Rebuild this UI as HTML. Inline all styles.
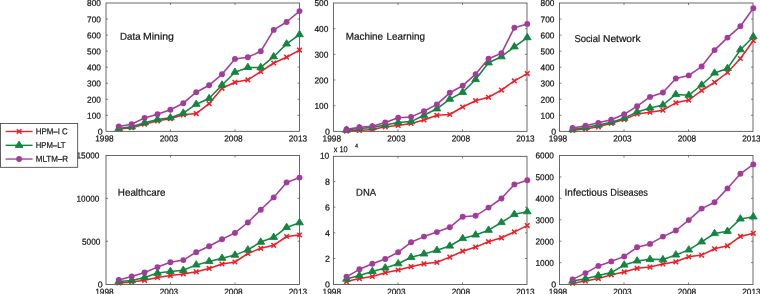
<!DOCTYPE html>
<html><head><meta charset="utf-8"><title>chart</title>
<style>
html,body{margin:0;padding:0;background:#fff;}
body{width:760px;height:294px;overflow:hidden;}
svg{display:block;}
text{font-family:"Liberation Sans",sans-serif;fill:#161616;stroke:#161616;stroke-width:0.22px;}
.t{font-size:8.7px;}
.h{font-size:10px;}
.l{font-size:8.5px;}
.s{font-size:5.8px;}
</style></head><body>
<svg width="760" height="294" viewBox="0 0 760 294">
<rect width="760" height="294" fill="#fff"/>
<g>
<rect x="106.00" y="3.00" width="193.50" height="128.35" fill="none" stroke="#4e4e4e" stroke-width="0.85"/>
<path d="M170.50 131.35v-2.00M170.50 3.00v2.00M235.00 131.35v-2.00M235.00 3.00v2.00M106.00 115.31h2.00M299.50 115.31h-2.00M106.00 99.26h2.00M299.50 99.26h-2.00M106.00 83.22h2.00M299.50 83.22h-2.00M106.00 67.17h2.00M299.50 67.17h-2.00M106.00 51.13h2.00M299.50 51.13h-2.00M106.00 35.09h2.00M299.50 35.09h-2.00M106.00 19.04h2.00M299.50 19.04h-2.00" stroke="#4e4e4e" stroke-width="0.7" fill="none"/>
<text class="t" x="97.65" y="134.75" transform="rotate(0.04 97.65 134.75)" textLength="4.90" lengthAdjust="spacingAndGlyphs">0</text>
<text class="t" x="87.00" y="118.71" transform="rotate(0.04 87.00 118.71)" textLength="13.90" lengthAdjust="spacingAndGlyphs">100</text>
<text class="t" x="87.00" y="102.66" transform="rotate(0.04 87.00 102.66)" textLength="13.90" lengthAdjust="spacingAndGlyphs">200</text>
<text class="t" x="87.00" y="86.62" transform="rotate(0.04 87.00 86.62)" textLength="13.90" lengthAdjust="spacingAndGlyphs">300</text>
<text class="t" x="87.00" y="70.58" transform="rotate(0.04 87.00 70.58)" textLength="13.90" lengthAdjust="spacingAndGlyphs">400</text>
<text class="t" x="87.00" y="54.53" transform="rotate(0.04 87.00 54.53)" textLength="13.90" lengthAdjust="spacingAndGlyphs">500</text>
<text class="t" x="87.00" y="38.49" transform="rotate(0.04 87.00 38.49)" textLength="13.90" lengthAdjust="spacingAndGlyphs">600</text>
<text class="t" x="87.00" y="22.44" transform="rotate(0.04 87.00 22.44)" textLength="13.90" lengthAdjust="spacingAndGlyphs">700</text>
<text class="t" x="87.00" y="6.00" transform="rotate(0.04 87.00 6.00)" textLength="13.90" lengthAdjust="spacingAndGlyphs">800</text>
<text class="t" x="95.20" y="141.55" transform="rotate(0.04 95.20 141.55)" textLength="18.40" lengthAdjust="spacingAndGlyphs">1998</text>
<text class="t" x="159.70" y="141.55" transform="rotate(0.04 159.70 141.55)" textLength="18.40" lengthAdjust="spacingAndGlyphs">2003</text>
<text class="t" x="224.20" y="141.55" transform="rotate(0.04 224.20 141.55)" textLength="18.40" lengthAdjust="spacingAndGlyphs">2008</text>
<text class="t" x="288.70" y="141.55" transform="rotate(0.04 288.70 141.55)" textLength="18.40" lengthAdjust="spacingAndGlyphs">2013</text>
<text class="h" x="120.05" y="39.70" transform="rotate(0.04 120.05 39.70)" textLength="20.52" lengthAdjust="spacingAndGlyphs">Data</text>
<text class="h" x="143.00" y="39.70" transform="rotate(0.04 143.00 39.70)" textLength="30.91" lengthAdjust="spacingAndGlyphs">Mining</text>
<polyline points="118.76,129.10 131.67,127.70 144.58,124.20 157.49,120.80 170.40,118.70 183.31,114.80 196.22,113.60 209.13,103.70 222.04,88.30 234.95,82.30 247.86,79.80 260.77,71.70 273.68,63.00 286.59,57.20 299.50,50.10" fill="none" stroke="#ec1e28" stroke-width="1.55" stroke-linejoin="round"/>
<path d="M116.46 126.80L121.06 131.40M116.46 131.40L121.06 126.80" stroke="#ec1e28" stroke-width="1.5" fill="none"/><path d="M129.37 125.40L133.97 130.00M129.37 130.00L133.97 125.40" stroke="#ec1e28" stroke-width="1.5" fill="none"/><path d="M142.28 121.90L146.88 126.50M142.28 126.50L146.88 121.90" stroke="#ec1e28" stroke-width="1.5" fill="none"/><path d="M155.19 118.50L159.79 123.10M155.19 123.10L159.79 118.50" stroke="#ec1e28" stroke-width="1.5" fill="none"/><path d="M168.10 116.40L172.70 121.00M168.10 121.00L172.70 116.40" stroke="#ec1e28" stroke-width="1.5" fill="none"/><path d="M181.01 112.50L185.61 117.10M181.01 117.10L185.61 112.50" stroke="#ec1e28" stroke-width="1.5" fill="none"/><path d="M193.92 111.30L198.52 115.90M193.92 115.90L198.52 111.30" stroke="#ec1e28" stroke-width="1.5" fill="none"/><path d="M206.83 101.40L211.43 106.00M206.83 106.00L211.43 101.40" stroke="#ec1e28" stroke-width="1.5" fill="none"/><path d="M219.74 86.00L224.34 90.60M219.74 90.60L224.34 86.00" stroke="#ec1e28" stroke-width="1.5" fill="none"/><path d="M232.65 80.00L237.25 84.60M232.65 84.60L237.25 80.00" stroke="#ec1e28" stroke-width="1.5" fill="none"/><path d="M245.56 77.50L250.16 82.10M245.56 82.10L250.16 77.50" stroke="#ec1e28" stroke-width="1.5" fill="none"/><path d="M258.47 69.40L263.07 74.00M258.47 74.00L263.07 69.40" stroke="#ec1e28" stroke-width="1.5" fill="none"/><path d="M271.38 60.70L275.98 65.30M271.38 65.30L275.98 60.70" stroke="#ec1e28" stroke-width="1.5" fill="none"/><path d="M284.29 54.90L288.89 59.50M284.29 59.50L288.89 54.90" stroke="#ec1e28" stroke-width="1.5" fill="none"/><path d="M297.20 47.80L301.80 52.40M297.20 52.40L301.80 47.80" stroke="#ec1e28" stroke-width="1.5" fill="none"/>
<polyline points="118.76,128.50 131.67,126.80 144.58,122.80 157.49,119.60 170.40,117.70 183.31,113.10 196.22,104.20 209.13,98.50 222.04,85.00 234.95,72.20 247.86,67.40 260.77,67.40 273.68,56.70 286.59,43.90 299.50,34.60" fill="none" stroke="#12853f" stroke-width="1.55" stroke-linejoin="round"/>
<path d="M118.76 124.27L122.63 130.62L114.88 130.62Z" fill="#12853f" stroke="#12853f" stroke-width="0.9"/><path d="M131.67 122.57L135.54 128.92L127.79 128.92Z" fill="#12853f" stroke="#12853f" stroke-width="0.9"/><path d="M144.58 118.57L148.45 124.92L140.70 124.92Z" fill="#12853f" stroke="#12853f" stroke-width="0.9"/><path d="M157.49 115.37L161.37 121.72L153.62 121.72Z" fill="#12853f" stroke="#12853f" stroke-width="0.9"/><path d="M170.40 113.47L174.27 119.82L166.52 119.82Z" fill="#12853f" stroke="#12853f" stroke-width="0.9"/><path d="M183.31 108.87L187.19 115.22L179.44 115.22Z" fill="#12853f" stroke="#12853f" stroke-width="0.9"/><path d="M196.22 99.97L200.09 106.32L192.34 106.32Z" fill="#12853f" stroke="#12853f" stroke-width="0.9"/><path d="M209.13 94.27L213.00 100.62L205.25 100.62Z" fill="#12853f" stroke="#12853f" stroke-width="0.9"/><path d="M222.04 80.77L225.91 87.12L218.16 87.12Z" fill="#12853f" stroke="#12853f" stroke-width="0.9"/><path d="M234.95 67.97L238.82 74.32L231.07 74.32Z" fill="#12853f" stroke="#12853f" stroke-width="0.9"/><path d="M247.86 63.17L251.73 69.52L243.98 69.52Z" fill="#12853f" stroke="#12853f" stroke-width="0.9"/><path d="M260.77 63.17L264.64 69.52L256.89 69.52Z" fill="#12853f" stroke="#12853f" stroke-width="0.9"/><path d="M273.68 52.47L277.56 58.82L269.81 58.82Z" fill="#12853f" stroke="#12853f" stroke-width="0.9"/><path d="M286.59 39.67L290.47 46.02L282.72 46.02Z" fill="#12853f" stroke="#12853f" stroke-width="0.9"/><path d="M299.50 30.37L303.38 36.72L295.62 36.72Z" fill="#12853f" stroke="#12853f" stroke-width="0.9"/>
<polyline points="118.76,126.40 131.67,124.20 144.58,117.90 157.49,114.30 170.40,109.70 183.31,103.20 196.22,92.20 209.13,85.20 222.04,74.30 234.95,58.90 247.86,57.20 260.77,51.30 273.68,29.90 286.59,22.00 299.50,11.10" fill="none" stroke="#a23c9a" stroke-width="1.55" stroke-linejoin="round"/>
<circle cx="118.76" cy="126.40" r="2.95" fill="#a23c9a"/><circle cx="131.67" cy="124.20" r="2.95" fill="#a23c9a"/><circle cx="144.58" cy="117.90" r="2.95" fill="#a23c9a"/><circle cx="157.49" cy="114.30" r="2.95" fill="#a23c9a"/><circle cx="170.40" cy="109.70" r="2.95" fill="#a23c9a"/><circle cx="183.31" cy="103.20" r="2.95" fill="#a23c9a"/><circle cx="196.22" cy="92.20" r="2.95" fill="#a23c9a"/><circle cx="209.13" cy="85.20" r="2.95" fill="#a23c9a"/><circle cx="222.04" cy="74.30" r="2.95" fill="#a23c9a"/><circle cx="234.95" cy="58.90" r="2.95" fill="#a23c9a"/><circle cx="247.86" cy="57.20" r="2.95" fill="#a23c9a"/><circle cx="260.77" cy="51.30" r="2.95" fill="#a23c9a"/><circle cx="273.68" cy="29.90" r="2.95" fill="#a23c9a"/><circle cx="286.59" cy="22.00" r="2.95" fill="#a23c9a"/><circle cx="299.50" cy="11.10" r="2.95" fill="#a23c9a"/>
</g>
<g>
<rect x="333.40" y="3.00" width="193.60" height="128.35" fill="none" stroke="#4e4e4e" stroke-width="0.85"/>
<path d="M397.93 131.35v-2.00M397.93 3.00v2.00M462.47 131.35v-2.00M462.47 3.00v2.00M333.40 105.68h2.00M527.00 105.68h-2.00M333.40 80.01h2.00M527.00 80.01h-2.00M333.40 54.34h2.00M527.00 54.34h-2.00M333.40 28.67h2.00M527.00 28.67h-2.00" stroke="#4e4e4e" stroke-width="0.7" fill="none"/>
<text class="t" x="325.05" y="134.75" transform="rotate(0.04 325.05 134.75)" textLength="4.90" lengthAdjust="spacingAndGlyphs">0</text>
<text class="t" x="314.40" y="109.08" transform="rotate(0.04 314.40 109.08)" textLength="13.90" lengthAdjust="spacingAndGlyphs">100</text>
<text class="t" x="314.40" y="83.41" transform="rotate(0.04 314.40 83.41)" textLength="13.90" lengthAdjust="spacingAndGlyphs">200</text>
<text class="t" x="314.40" y="57.74" transform="rotate(0.04 314.40 57.74)" textLength="13.90" lengthAdjust="spacingAndGlyphs">300</text>
<text class="t" x="314.40" y="32.07" transform="rotate(0.04 314.40 32.07)" textLength="13.90" lengthAdjust="spacingAndGlyphs">400</text>
<text class="t" x="314.40" y="6.00" transform="rotate(0.04 314.40 6.00)" textLength="13.90" lengthAdjust="spacingAndGlyphs">500</text>
<text class="t" x="322.60" y="141.55" transform="rotate(0.04 322.60 141.55)" textLength="18.40" lengthAdjust="spacingAndGlyphs">1998</text>
<text class="t" x="387.13" y="141.55" transform="rotate(0.04 387.13 141.55)" textLength="18.40" lengthAdjust="spacingAndGlyphs">2003</text>
<text class="t" x="451.67" y="141.55" transform="rotate(0.04 451.67 141.55)" textLength="18.40" lengthAdjust="spacingAndGlyphs">2008</text>
<text class="t" x="516.20" y="141.55" transform="rotate(0.04 516.20 141.55)" textLength="18.40" lengthAdjust="spacingAndGlyphs">2013</text>
<text class="h" x="345.80" y="39.70" transform="rotate(0.04 345.80 39.70)" textLength="37.30" lengthAdjust="spacingAndGlyphs">Machine</text>
<text class="h" x="386.50" y="39.70" transform="rotate(0.04 386.50 39.70)" textLength="38.42" lengthAdjust="spacingAndGlyphs">Learning</text>
<polyline points="346.51,131.10 359.42,130.40 372.33,129.40 385.24,126.80 398.15,125.40 411.06,123.40 423.97,119.90 436.88,115.30 449.79,114.50 462.70,107.00 475.61,100.70 488.52,97.30 501.43,90.10 514.34,80.90 527.25,73.60" fill="none" stroke="#ec1e28" stroke-width="1.55" stroke-linejoin="round"/>
<path d="M344.21 128.80L348.81 133.40M344.21 133.40L348.81 128.80" stroke="#ec1e28" stroke-width="1.5" fill="none"/><path d="M357.12 128.10L361.72 132.70M357.12 132.70L361.72 128.10" stroke="#ec1e28" stroke-width="1.5" fill="none"/><path d="M370.03 127.10L374.63 131.70M370.03 131.70L374.63 127.10" stroke="#ec1e28" stroke-width="1.5" fill="none"/><path d="M382.94 124.50L387.54 129.10M382.94 129.10L387.54 124.50" stroke="#ec1e28" stroke-width="1.5" fill="none"/><path d="M395.85 123.10L400.45 127.70M395.85 127.70L400.45 123.10" stroke="#ec1e28" stroke-width="1.5" fill="none"/><path d="M408.76 121.10L413.36 125.70M408.76 125.70L413.36 121.10" stroke="#ec1e28" stroke-width="1.5" fill="none"/><path d="M421.67 117.60L426.27 122.20M421.67 122.20L426.27 117.60" stroke="#ec1e28" stroke-width="1.5" fill="none"/><path d="M434.58 113.00L439.18 117.60M434.58 117.60L439.18 113.00" stroke="#ec1e28" stroke-width="1.5" fill="none"/><path d="M447.49 112.20L452.09 116.80M447.49 116.80L452.09 112.20" stroke="#ec1e28" stroke-width="1.5" fill="none"/><path d="M460.40 104.70L465.00 109.30M460.40 109.30L465.00 104.70" stroke="#ec1e28" stroke-width="1.5" fill="none"/><path d="M473.31 98.40L477.91 103.00M473.31 103.00L477.91 98.40" stroke="#ec1e28" stroke-width="1.5" fill="none"/><path d="M486.22 95.00L490.82 99.60M486.22 99.60L490.82 95.00" stroke="#ec1e28" stroke-width="1.5" fill="none"/><path d="M499.13 87.80L503.73 92.40M499.13 92.40L503.73 87.80" stroke="#ec1e28" stroke-width="1.5" fill="none"/><path d="M512.04 78.60L516.64 83.20M512.04 83.20L516.64 78.60" stroke="#ec1e28" stroke-width="1.5" fill="none"/><path d="M524.95 71.30L529.55 75.90M524.95 75.90L529.55 71.30" stroke="#ec1e28" stroke-width="1.5" fill="none"/>
<polyline points="346.51,130.10 359.42,128.50 372.33,127.60 385.24,125.10 398.15,122.50 411.06,121.60 423.97,115.30 436.88,108.80 449.79,99.10 462.70,92.30 475.61,79.50 488.52,62.80 501.43,56.70 514.34,46.80 527.25,37.60" fill="none" stroke="#12853f" stroke-width="1.55" stroke-linejoin="round"/>
<path d="M346.51 125.87L350.39 132.22L342.64 132.22Z" fill="#12853f" stroke="#12853f" stroke-width="0.9"/><path d="M359.42 124.27L363.30 130.62L355.55 130.62Z" fill="#12853f" stroke="#12853f" stroke-width="0.9"/><path d="M372.33 123.37L376.21 129.72L368.46 129.72Z" fill="#12853f" stroke="#12853f" stroke-width="0.9"/><path d="M385.24 120.87L389.12 127.22L381.37 127.22Z" fill="#12853f" stroke="#12853f" stroke-width="0.9"/><path d="M398.15 118.27L402.03 124.62L394.28 124.62Z" fill="#12853f" stroke="#12853f" stroke-width="0.9"/><path d="M411.06 117.37L414.94 123.72L407.19 123.72Z" fill="#12853f" stroke="#12853f" stroke-width="0.9"/><path d="M423.97 111.07L427.85 117.42L420.10 117.42Z" fill="#12853f" stroke="#12853f" stroke-width="0.9"/><path d="M436.88 104.57L440.75 110.92L433.00 110.92Z" fill="#12853f" stroke="#12853f" stroke-width="0.9"/><path d="M449.79 94.87L453.67 101.22L445.92 101.22Z" fill="#12853f" stroke="#12853f" stroke-width="0.9"/><path d="M462.70 88.07L466.58 94.42L458.83 94.42Z" fill="#12853f" stroke="#12853f" stroke-width="0.9"/><path d="M475.61 75.27L479.49 81.62L471.74 81.62Z" fill="#12853f" stroke="#12853f" stroke-width="0.9"/><path d="M488.52 58.57L492.40 64.92L484.65 64.92Z" fill="#12853f" stroke="#12853f" stroke-width="0.9"/><path d="M501.43 52.47L505.31 58.82L497.56 58.82Z" fill="#12853f" stroke="#12853f" stroke-width="0.9"/><path d="M514.34 42.57L518.22 48.92L510.47 48.92Z" fill="#12853f" stroke="#12853f" stroke-width="0.9"/><path d="M527.25 33.37L531.12 39.72L523.38 39.72Z" fill="#12853f" stroke="#12853f" stroke-width="0.9"/>
<polyline points="346.51,129.25 359.42,127.20 372.33,126.30 385.24,122.50 398.15,117.70 411.06,116.90 423.97,111.30 436.88,104.40 449.79,92.80 462.70,85.70 475.61,74.10 488.52,58.70 501.43,53.30 514.34,27.70 527.25,23.90" fill="none" stroke="#a23c9a" stroke-width="1.55" stroke-linejoin="round"/>
<circle cx="346.51" cy="129.25" r="2.95" fill="#a23c9a"/><circle cx="359.42" cy="127.20" r="2.95" fill="#a23c9a"/><circle cx="372.33" cy="126.30" r="2.95" fill="#a23c9a"/><circle cx="385.24" cy="122.50" r="2.95" fill="#a23c9a"/><circle cx="398.15" cy="117.70" r="2.95" fill="#a23c9a"/><circle cx="411.06" cy="116.90" r="2.95" fill="#a23c9a"/><circle cx="423.97" cy="111.30" r="2.95" fill="#a23c9a"/><circle cx="436.88" cy="104.40" r="2.95" fill="#a23c9a"/><circle cx="449.79" cy="92.80" r="2.95" fill="#a23c9a"/><circle cx="462.70" cy="85.70" r="2.95" fill="#a23c9a"/><circle cx="475.61" cy="74.10" r="2.95" fill="#a23c9a"/><circle cx="488.52" cy="58.70" r="2.95" fill="#a23c9a"/><circle cx="501.43" cy="53.30" r="2.95" fill="#a23c9a"/><circle cx="514.34" cy="27.70" r="2.95" fill="#a23c9a"/><circle cx="527.25" cy="23.90" r="2.95" fill="#a23c9a"/>
</g>
<g>
<rect x="559.50" y="3.00" width="193.50" height="128.35" fill="none" stroke="#4e4e4e" stroke-width="0.85"/>
<path d="M624.00 131.35v-2.00M624.00 3.00v2.00M688.50 131.35v-2.00M688.50 3.00v2.00M559.50 115.31h2.00M753.00 115.31h-2.00M559.50 99.26h2.00M753.00 99.26h-2.00M559.50 83.22h2.00M753.00 83.22h-2.00M559.50 67.17h2.00M753.00 67.17h-2.00M559.50 51.13h2.00M753.00 51.13h-2.00M559.50 35.09h2.00M753.00 35.09h-2.00M559.50 19.04h2.00M753.00 19.04h-2.00" stroke="#4e4e4e" stroke-width="0.7" fill="none"/>
<text class="t" x="551.15" y="134.75" transform="rotate(0.04 551.15 134.75)" textLength="4.90" lengthAdjust="spacingAndGlyphs">0</text>
<text class="t" x="540.50" y="118.71" transform="rotate(0.04 540.50 118.71)" textLength="13.90" lengthAdjust="spacingAndGlyphs">100</text>
<text class="t" x="540.50" y="102.66" transform="rotate(0.04 540.50 102.66)" textLength="13.90" lengthAdjust="spacingAndGlyphs">200</text>
<text class="t" x="540.50" y="86.62" transform="rotate(0.04 540.50 86.62)" textLength="13.90" lengthAdjust="spacingAndGlyphs">300</text>
<text class="t" x="540.50" y="70.58" transform="rotate(0.04 540.50 70.58)" textLength="13.90" lengthAdjust="spacingAndGlyphs">400</text>
<text class="t" x="540.50" y="54.53" transform="rotate(0.04 540.50 54.53)" textLength="13.90" lengthAdjust="spacingAndGlyphs">500</text>
<text class="t" x="540.50" y="38.49" transform="rotate(0.04 540.50 38.49)" textLength="13.90" lengthAdjust="spacingAndGlyphs">600</text>
<text class="t" x="540.50" y="22.44" transform="rotate(0.04 540.50 22.44)" textLength="13.90" lengthAdjust="spacingAndGlyphs">700</text>
<text class="t" x="540.50" y="6.00" transform="rotate(0.04 540.50 6.00)" textLength="13.90" lengthAdjust="spacingAndGlyphs">800</text>
<text class="t" x="548.70" y="141.55" transform="rotate(0.04 548.70 141.55)" textLength="18.40" lengthAdjust="spacingAndGlyphs">1998</text>
<text class="t" x="613.20" y="141.55" transform="rotate(0.04 613.20 141.55)" textLength="18.40" lengthAdjust="spacingAndGlyphs">2003</text>
<text class="t" x="677.70" y="141.55" transform="rotate(0.04 677.70 141.55)" textLength="18.40" lengthAdjust="spacingAndGlyphs">2008</text>
<text class="t" x="742.20" y="141.55" transform="rotate(0.04 742.20 141.55)" textLength="18.40" lengthAdjust="spacingAndGlyphs">2013</text>
<text class="h" x="574.40" y="41.90" transform="rotate(0.04 574.40 41.90)" textLength="25.64" lengthAdjust="spacingAndGlyphs">Social</text>
<text class="h" x="603.00" y="41.90" transform="rotate(0.04 603.00 41.90)" textLength="37.52" lengthAdjust="spacingAndGlyphs">Network</text>
<polyline points="572.56,130.30 585.47,129.00 598.38,126.80 611.29,123.30 624.20,119.60 637.11,113.90 650.02,112.20 662.93,110.20 675.84,102.80 688.75,100.10 701.66,90.50 714.57,82.30 727.48,72.50 740.39,58.50 753.30,40.70" fill="none" stroke="#ec1e28" stroke-width="1.55" stroke-linejoin="round"/>
<path d="M570.26 128.00L574.86 132.60M570.26 132.60L574.86 128.00" stroke="#ec1e28" stroke-width="1.5" fill="none"/><path d="M583.17 126.70L587.77 131.30M583.17 131.30L587.77 126.70" stroke="#ec1e28" stroke-width="1.5" fill="none"/><path d="M596.08 124.50L600.68 129.10M596.08 129.10L600.68 124.50" stroke="#ec1e28" stroke-width="1.5" fill="none"/><path d="M608.99 121.00L613.59 125.60M608.99 125.60L613.59 121.00" stroke="#ec1e28" stroke-width="1.5" fill="none"/><path d="M621.90 117.30L626.50 121.90M621.90 121.90L626.50 117.30" stroke="#ec1e28" stroke-width="1.5" fill="none"/><path d="M634.81 111.60L639.41 116.20M634.81 116.20L639.41 111.60" stroke="#ec1e28" stroke-width="1.5" fill="none"/><path d="M647.72 109.90L652.32 114.50M647.72 114.50L652.32 109.90" stroke="#ec1e28" stroke-width="1.5" fill="none"/><path d="M660.63 107.90L665.23 112.50M660.63 112.50L665.23 107.90" stroke="#ec1e28" stroke-width="1.5" fill="none"/><path d="M673.54 100.50L678.14 105.10M673.54 105.10L678.14 100.50" stroke="#ec1e28" stroke-width="1.5" fill="none"/><path d="M686.45 97.80L691.05 102.40M686.45 102.40L691.05 97.80" stroke="#ec1e28" stroke-width="1.5" fill="none"/><path d="M699.36 88.20L703.96 92.80M699.36 92.80L703.96 88.20" stroke="#ec1e28" stroke-width="1.5" fill="none"/><path d="M712.27 80.00L716.87 84.60M712.27 84.60L716.87 80.00" stroke="#ec1e28" stroke-width="1.5" fill="none"/><path d="M725.18 70.20L729.78 74.80M725.18 74.80L729.78 70.20" stroke="#ec1e28" stroke-width="1.5" fill="none"/><path d="M738.09 56.20L742.69 60.80M738.09 60.80L742.69 56.20" stroke="#ec1e28" stroke-width="1.5" fill="none"/><path d="M751.00 38.40L755.60 43.00M751.00 43.00L755.60 38.40" stroke="#ec1e28" stroke-width="1.5" fill="none"/>
<polyline points="572.56,129.60 585.47,127.40 598.38,125.10 611.29,122.20 624.20,118.20 637.11,111.90 650.02,107.90 662.93,105.00 675.84,94.40 688.75,95.20 701.66,85.00 714.57,73.00 727.48,68.40 740.39,49.70 753.30,36.70" fill="none" stroke="#12853f" stroke-width="1.55" stroke-linejoin="round"/>
<path d="M572.56 125.37L576.43 131.72L568.68 131.72Z" fill="#12853f" stroke="#12853f" stroke-width="0.9"/><path d="M585.47 123.17L589.35 129.52L581.60 129.52Z" fill="#12853f" stroke="#12853f" stroke-width="0.9"/><path d="M598.38 120.87L602.25 127.22L594.50 127.22Z" fill="#12853f" stroke="#12853f" stroke-width="0.9"/><path d="M611.29 117.97L615.16 124.32L607.41 124.32Z" fill="#12853f" stroke="#12853f" stroke-width="0.9"/><path d="M624.20 113.97L628.07 120.32L620.32 120.32Z" fill="#12853f" stroke="#12853f" stroke-width="0.9"/><path d="M637.11 107.67L640.99 114.02L633.24 114.02Z" fill="#12853f" stroke="#12853f" stroke-width="0.9"/><path d="M650.02 103.67L653.89 110.02L646.14 110.02Z" fill="#12853f" stroke="#12853f" stroke-width="0.9"/><path d="M662.93 100.77L666.80 107.12L659.05 107.12Z" fill="#12853f" stroke="#12853f" stroke-width="0.9"/><path d="M675.84 90.17L679.71 96.52L671.96 96.52Z" fill="#12853f" stroke="#12853f" stroke-width="0.9"/><path d="M688.75 90.97L692.62 97.32L684.88 97.32Z" fill="#12853f" stroke="#12853f" stroke-width="0.9"/><path d="M701.66 80.77L705.53 87.12L697.78 87.12Z" fill="#12853f" stroke="#12853f" stroke-width="0.9"/><path d="M714.57 68.77L718.44 75.12L710.69 75.12Z" fill="#12853f" stroke="#12853f" stroke-width="0.9"/><path d="M727.48 64.17L731.36 70.52L723.61 70.52Z" fill="#12853f" stroke="#12853f" stroke-width="0.9"/><path d="M740.39 45.47L744.26 51.82L736.51 51.82Z" fill="#12853f" stroke="#12853f" stroke-width="0.9"/><path d="M753.30 32.47L757.17 38.82L749.42 38.82Z" fill="#12853f" stroke="#12853f" stroke-width="0.9"/>
<polyline points="572.56,127.95 585.47,125.80 598.38,122.85 611.29,119.80 624.20,114.30 637.11,106.20 650.02,96.90 662.93,92.50 675.84,78.50 688.75,75.40 701.66,66.55 714.57,50.10 727.48,37.60 740.39,26.30 753.30,8.30" fill="none" stroke="#a23c9a" stroke-width="1.55" stroke-linejoin="round"/>
<circle cx="572.56" cy="127.95" r="2.95" fill="#a23c9a"/><circle cx="585.47" cy="125.80" r="2.95" fill="#a23c9a"/><circle cx="598.38" cy="122.85" r="2.95" fill="#a23c9a"/><circle cx="611.29" cy="119.80" r="2.95" fill="#a23c9a"/><circle cx="624.20" cy="114.30" r="2.95" fill="#a23c9a"/><circle cx="637.11" cy="106.20" r="2.95" fill="#a23c9a"/><circle cx="650.02" cy="96.90" r="2.95" fill="#a23c9a"/><circle cx="662.93" cy="92.50" r="2.95" fill="#a23c9a"/><circle cx="675.84" cy="78.50" r="2.95" fill="#a23c9a"/><circle cx="688.75" cy="75.40" r="2.95" fill="#a23c9a"/><circle cx="701.66" cy="66.55" r="2.95" fill="#a23c9a"/><circle cx="714.57" cy="50.10" r="2.95" fill="#a23c9a"/><circle cx="727.48" cy="37.60" r="2.95" fill="#a23c9a"/><circle cx="740.39" cy="26.30" r="2.95" fill="#a23c9a"/><circle cx="753.30" cy="8.30" r="2.95" fill="#a23c9a"/>
</g>
<g>
<rect x="106.00" y="155.50" width="193.50" height="128.95" fill="none" stroke="#4e4e4e" stroke-width="0.85"/>
<path d="M170.50 284.45v-2.00M170.50 155.50v2.00M235.00 284.45v-2.00M235.00 155.50v2.00M106.00 241.23h2.00M299.50 241.23h-2.00M106.00 198.37h2.00M299.50 198.37h-2.00" stroke="#4e4e4e" stroke-width="0.7" fill="none"/>
<text class="t" x="97.65" y="287.50" transform="rotate(0.04 97.65 287.50)" textLength="4.90" lengthAdjust="spacingAndGlyphs">0</text>
<text class="t" x="81.95" y="244.63" transform="rotate(0.04 81.95 244.63)" textLength="18.40" lengthAdjust="spacingAndGlyphs">5000</text>
<text class="t" x="76.50" y="201.77" transform="rotate(0.04 76.50 201.77)" textLength="22.90" lengthAdjust="spacingAndGlyphs">10000</text>
<text class="t" x="76.50" y="158.50" transform="rotate(0.04 76.50 158.50)" textLength="22.90" lengthAdjust="spacingAndGlyphs">15000</text>
<text class="t" x="95.20" y="294.65" transform="rotate(0.04 95.20 294.65)" textLength="18.40" lengthAdjust="spacingAndGlyphs">1998</text>
<text class="t" x="159.70" y="294.65" transform="rotate(0.04 159.70 294.65)" textLength="18.40" lengthAdjust="spacingAndGlyphs">2003</text>
<text class="t" x="224.20" y="294.65" transform="rotate(0.04 224.20 294.65)" textLength="18.40" lengthAdjust="spacingAndGlyphs">2008</text>
<text class="t" x="288.70" y="294.65" transform="rotate(0.04 288.70 294.65)" textLength="18.40" lengthAdjust="spacingAndGlyphs">2013</text>
<text class="h" x="117.80" y="195.70" transform="rotate(0.04 117.80 195.70)" textLength="47.61" lengthAdjust="spacingAndGlyphs">Healthcare</text>
<polyline points="118.76,283.00 131.67,282.00 144.58,280.30 157.49,277.40 170.40,275.60 183.31,273.90 196.22,271.80 209.13,268.40 222.04,264.00 234.95,262.00 247.86,253.50 260.77,248.30 273.68,245.30 286.59,236.50 299.50,235.00" fill="none" stroke="#ec1e28" stroke-width="1.55" stroke-linejoin="round"/>
<path d="M116.46 280.70L121.06 285.30M116.46 285.30L121.06 280.70" stroke="#ec1e28" stroke-width="1.5" fill="none"/><path d="M129.37 279.70L133.97 284.30M129.37 284.30L133.97 279.70" stroke="#ec1e28" stroke-width="1.5" fill="none"/><path d="M142.28 278.00L146.88 282.60M142.28 282.60L146.88 278.00" stroke="#ec1e28" stroke-width="1.5" fill="none"/><path d="M155.19 275.10L159.79 279.70M155.19 279.70L159.79 275.10" stroke="#ec1e28" stroke-width="1.5" fill="none"/><path d="M168.10 273.30L172.70 277.90M168.10 277.90L172.70 273.30" stroke="#ec1e28" stroke-width="1.5" fill="none"/><path d="M181.01 271.60L185.61 276.20M181.01 276.20L185.61 271.60" stroke="#ec1e28" stroke-width="1.5" fill="none"/><path d="M193.92 269.50L198.52 274.10M193.92 274.10L198.52 269.50" stroke="#ec1e28" stroke-width="1.5" fill="none"/><path d="M206.83 266.10L211.43 270.70M206.83 270.70L211.43 266.10" stroke="#ec1e28" stroke-width="1.5" fill="none"/><path d="M219.74 261.70L224.34 266.30M219.74 266.30L224.34 261.70" stroke="#ec1e28" stroke-width="1.5" fill="none"/><path d="M232.65 259.70L237.25 264.30M232.65 264.30L237.25 259.70" stroke="#ec1e28" stroke-width="1.5" fill="none"/><path d="M245.56 251.20L250.16 255.80M245.56 255.80L250.16 251.20" stroke="#ec1e28" stroke-width="1.5" fill="none"/><path d="M258.47 246.00L263.07 250.60M258.47 250.60L263.07 246.00" stroke="#ec1e28" stroke-width="1.5" fill="none"/><path d="M271.38 243.00L275.98 247.60M271.38 247.60L275.98 243.00" stroke="#ec1e28" stroke-width="1.5" fill="none"/><path d="M284.29 234.20L288.89 238.80M284.29 238.80L288.89 234.20" stroke="#ec1e28" stroke-width="1.5" fill="none"/><path d="M297.20 232.70L301.80 237.30M297.20 237.30L301.80 232.70" stroke="#ec1e28" stroke-width="1.5" fill="none"/>
<polyline points="118.76,281.60 131.67,280.50 144.58,277.40 157.49,273.10 170.40,271.40 183.31,270.30 196.22,264.90 209.13,261.40 222.04,258.20 234.95,255.10 247.86,249.90 260.77,242.10 273.68,237.30 286.59,227.40 299.50,222.70" fill="none" stroke="#12853f" stroke-width="1.55" stroke-linejoin="round"/>
<path d="M118.76 277.37L122.63 283.72L114.88 283.72Z" fill="#12853f" stroke="#12853f" stroke-width="0.9"/><path d="M131.67 276.27L135.54 282.62L127.79 282.62Z" fill="#12853f" stroke="#12853f" stroke-width="0.9"/><path d="M144.58 273.17L148.45 279.52L140.70 279.52Z" fill="#12853f" stroke="#12853f" stroke-width="0.9"/><path d="M157.49 268.87L161.37 275.22L153.62 275.22Z" fill="#12853f" stroke="#12853f" stroke-width="0.9"/><path d="M170.40 267.17L174.27 273.52L166.52 273.52Z" fill="#12853f" stroke="#12853f" stroke-width="0.9"/><path d="M183.31 266.07L187.19 272.42L179.44 272.42Z" fill="#12853f" stroke="#12853f" stroke-width="0.9"/><path d="M196.22 260.67L200.09 267.02L192.34 267.02Z" fill="#12853f" stroke="#12853f" stroke-width="0.9"/><path d="M209.13 257.17L213.00 263.52L205.25 263.52Z" fill="#12853f" stroke="#12853f" stroke-width="0.9"/><path d="M222.04 253.97L225.91 260.32L218.16 260.32Z" fill="#12853f" stroke="#12853f" stroke-width="0.9"/><path d="M234.95 250.87L238.82 257.22L231.07 257.22Z" fill="#12853f" stroke="#12853f" stroke-width="0.9"/><path d="M247.86 245.67L251.73 252.02L243.98 252.02Z" fill="#12853f" stroke="#12853f" stroke-width="0.9"/><path d="M260.77 237.87L264.64 244.22L256.89 244.22Z" fill="#12853f" stroke="#12853f" stroke-width="0.9"/><path d="M273.68 233.07L277.56 239.42L269.81 239.42Z" fill="#12853f" stroke="#12853f" stroke-width="0.9"/><path d="M286.59 223.17L290.47 229.52L282.72 229.52Z" fill="#12853f" stroke="#12853f" stroke-width="0.9"/><path d="M299.50 218.47L303.38 224.82L295.62 224.82Z" fill="#12853f" stroke="#12853f" stroke-width="0.9"/>
<polyline points="118.76,279.90 131.67,276.40 144.58,272.45 157.49,267.10 170.40,262.30 183.31,260.10 196.22,252.20 209.13,246.30 222.04,239.30 234.95,232.90 247.86,222.50 260.77,209.70 273.68,197.40 286.59,182.40 299.50,177.60" fill="none" stroke="#a23c9a" stroke-width="1.55" stroke-linejoin="round"/>
<circle cx="118.76" cy="279.90" r="2.95" fill="#a23c9a"/><circle cx="131.67" cy="276.40" r="2.95" fill="#a23c9a"/><circle cx="144.58" cy="272.45" r="2.95" fill="#a23c9a"/><circle cx="157.49" cy="267.10" r="2.95" fill="#a23c9a"/><circle cx="170.40" cy="262.30" r="2.95" fill="#a23c9a"/><circle cx="183.31" cy="260.10" r="2.95" fill="#a23c9a"/><circle cx="196.22" cy="252.20" r="2.95" fill="#a23c9a"/><circle cx="209.13" cy="246.30" r="2.95" fill="#a23c9a"/><circle cx="222.04" cy="239.30" r="2.95" fill="#a23c9a"/><circle cx="234.95" cy="232.90" r="2.95" fill="#a23c9a"/><circle cx="247.86" cy="222.50" r="2.95" fill="#a23c9a"/><circle cx="260.77" cy="209.70" r="2.95" fill="#a23c9a"/><circle cx="273.68" cy="197.40" r="2.95" fill="#a23c9a"/><circle cx="286.59" cy="182.40" r="2.95" fill="#a23c9a"/><circle cx="299.50" cy="177.60" r="2.95" fill="#a23c9a"/>
</g>
<g>
<rect x="333.40" y="156.30" width="193.60" height="128.15" fill="none" stroke="#4e4e4e" stroke-width="0.85"/>
<path d="M397.93 284.45v-2.00M397.93 156.30v2.00M462.47 284.45v-2.00M462.47 156.30v2.00M333.40 258.46h2.00M527.00 258.46h-2.00M333.40 232.82h2.00M527.00 232.82h-2.00M333.40 207.18h2.00M527.00 207.18h-2.00M333.40 181.54h2.00M527.00 181.54h-2.00" stroke="#4e4e4e" stroke-width="0.7" fill="none"/>
<text class="t" x="325.05" y="287.50" transform="rotate(0.04 325.05 287.50)" textLength="4.90" lengthAdjust="spacingAndGlyphs">0</text>
<text class="t" x="325.05" y="261.84" transform="rotate(0.04 325.05 261.84)" textLength="4.90" lengthAdjust="spacingAndGlyphs">2</text>
<text class="t" x="325.05" y="236.18" transform="rotate(0.04 325.05 236.18)" textLength="4.90" lengthAdjust="spacingAndGlyphs">4</text>
<text class="t" x="325.05" y="210.52" transform="rotate(0.04 325.05 210.52)" textLength="4.90" lengthAdjust="spacingAndGlyphs">6</text>
<text class="t" x="325.05" y="184.86" transform="rotate(0.04 325.05 184.86)" textLength="4.90" lengthAdjust="spacingAndGlyphs">8</text>
<text class="t" x="319.90" y="158.80" transform="rotate(0.04 319.90 158.80)" textLength="9.40" lengthAdjust="spacingAndGlyphs">10</text>
<text class="t" x="322.60" y="294.65" transform="rotate(0.04 322.60 294.65)" textLength="18.40" lengthAdjust="spacingAndGlyphs">1998</text>
<text class="t" x="387.13" y="294.65" transform="rotate(0.04 387.13 294.65)" textLength="18.40" lengthAdjust="spacingAndGlyphs">2003</text>
<text class="t" x="451.67" y="294.65" transform="rotate(0.04 451.67 294.65)" textLength="18.40" lengthAdjust="spacingAndGlyphs">2008</text>
<text class="t" x="516.20" y="294.65" transform="rotate(0.04 516.20 294.65)" textLength="18.40" lengthAdjust="spacingAndGlyphs">2013</text>
<text class="h" x="356.10" y="195.70" transform="rotate(0.04 356.10 195.70)" textLength="19.97" lengthAdjust="spacingAndGlyphs">DNA</text>
<polyline points="346.51,281.60 359.42,278.55 372.33,276.50 385.24,272.70 398.15,270.00 411.06,266.70 423.97,263.80 436.88,262.30 449.79,257.10 462.70,251.20 475.61,247.10 488.52,241.70 501.43,237.80 514.34,231.90 527.25,225.60" fill="none" stroke="#ec1e28" stroke-width="1.55" stroke-linejoin="round"/>
<path d="M344.21 279.30L348.81 283.90M344.21 283.90L348.81 279.30" stroke="#ec1e28" stroke-width="1.5" fill="none"/><path d="M357.12 276.25L361.72 280.85M357.12 280.85L361.72 276.25" stroke="#ec1e28" stroke-width="1.5" fill="none"/><path d="M370.03 274.20L374.63 278.80M370.03 278.80L374.63 274.20" stroke="#ec1e28" stroke-width="1.5" fill="none"/><path d="M382.94 270.40L387.54 275.00M382.94 275.00L387.54 270.40" stroke="#ec1e28" stroke-width="1.5" fill="none"/><path d="M395.85 267.70L400.45 272.30M395.85 272.30L400.45 267.70" stroke="#ec1e28" stroke-width="1.5" fill="none"/><path d="M408.76 264.40L413.36 269.00M408.76 269.00L413.36 264.40" stroke="#ec1e28" stroke-width="1.5" fill="none"/><path d="M421.67 261.50L426.27 266.10M421.67 266.10L426.27 261.50" stroke="#ec1e28" stroke-width="1.5" fill="none"/><path d="M434.58 260.00L439.18 264.60M434.58 264.60L439.18 260.00" stroke="#ec1e28" stroke-width="1.5" fill="none"/><path d="M447.49 254.80L452.09 259.40M447.49 259.40L452.09 254.80" stroke="#ec1e28" stroke-width="1.5" fill="none"/><path d="M460.40 248.90L465.00 253.50M460.40 253.50L465.00 248.90" stroke="#ec1e28" stroke-width="1.5" fill="none"/><path d="M473.31 244.80L477.91 249.40M473.31 249.40L477.91 244.80" stroke="#ec1e28" stroke-width="1.5" fill="none"/><path d="M486.22 239.40L490.82 244.00M486.22 244.00L490.82 239.40" stroke="#ec1e28" stroke-width="1.5" fill="none"/><path d="M499.13 235.50L503.73 240.10M499.13 240.10L503.73 235.50" stroke="#ec1e28" stroke-width="1.5" fill="none"/><path d="M512.04 229.60L516.64 234.20M512.04 234.20L516.64 229.60" stroke="#ec1e28" stroke-width="1.5" fill="none"/><path d="M524.95 223.30L529.55 227.90M524.95 227.90L529.55 223.30" stroke="#ec1e28" stroke-width="1.5" fill="none"/>
<polyline points="346.51,279.10 359.42,275.60 372.33,271.40 385.24,267.90 398.15,263.70 411.06,257.30 423.97,253.90 436.88,250.30 449.79,246.00 462.70,238.50 475.61,234.90 488.52,230.20 501.43,222.50 514.34,214.30 527.25,211.70" fill="none" stroke="#12853f" stroke-width="1.55" stroke-linejoin="round"/>
<path d="M346.51 274.87L350.39 281.22L342.64 281.22Z" fill="#12853f" stroke="#12853f" stroke-width="0.9"/><path d="M359.42 271.37L363.30 277.72L355.55 277.72Z" fill="#12853f" stroke="#12853f" stroke-width="0.9"/><path d="M372.33 267.17L376.21 273.52L368.46 273.52Z" fill="#12853f" stroke="#12853f" stroke-width="0.9"/><path d="M385.24 263.67L389.12 270.02L381.37 270.02Z" fill="#12853f" stroke="#12853f" stroke-width="0.9"/><path d="M398.15 259.47L402.03 265.82L394.28 265.82Z" fill="#12853f" stroke="#12853f" stroke-width="0.9"/><path d="M411.06 253.07L414.94 259.42L407.19 259.42Z" fill="#12853f" stroke="#12853f" stroke-width="0.9"/><path d="M423.97 249.67L427.85 256.02L420.10 256.02Z" fill="#12853f" stroke="#12853f" stroke-width="0.9"/><path d="M436.88 246.07L440.75 252.42L433.00 252.42Z" fill="#12853f" stroke="#12853f" stroke-width="0.9"/><path d="M449.79 241.77L453.67 248.12L445.92 248.12Z" fill="#12853f" stroke="#12853f" stroke-width="0.9"/><path d="M462.70 234.27L466.58 240.62L458.83 240.62Z" fill="#12853f" stroke="#12853f" stroke-width="0.9"/><path d="M475.61 230.67L479.49 237.02L471.74 237.02Z" fill="#12853f" stroke="#12853f" stroke-width="0.9"/><path d="M488.52 225.97L492.40 232.32L484.65 232.32Z" fill="#12853f" stroke="#12853f" stroke-width="0.9"/><path d="M501.43 218.27L505.31 224.62L497.56 224.62Z" fill="#12853f" stroke="#12853f" stroke-width="0.9"/><path d="M514.34 210.07L518.22 216.42L510.47 216.42Z" fill="#12853f" stroke="#12853f" stroke-width="0.9"/><path d="M527.25 207.47L531.12 213.82L523.38 213.82Z" fill="#12853f" stroke="#12853f" stroke-width="0.9"/>
<polyline points="346.51,276.80 359.42,269.30 372.33,263.70 385.24,259.05 398.15,252.20 411.06,242.30 423.97,236.60 436.88,232.10 449.79,227.30 462.70,216.70 475.61,215.80 488.52,207.60 501.43,198.50 514.34,184.40 527.25,180.30" fill="none" stroke="#a23c9a" stroke-width="1.55" stroke-linejoin="round"/>
<circle cx="346.51" cy="276.80" r="2.95" fill="#a23c9a"/><circle cx="359.42" cy="269.30" r="2.95" fill="#a23c9a"/><circle cx="372.33" cy="263.70" r="2.95" fill="#a23c9a"/><circle cx="385.24" cy="259.05" r="2.95" fill="#a23c9a"/><circle cx="398.15" cy="252.20" r="2.95" fill="#a23c9a"/><circle cx="411.06" cy="242.30" r="2.95" fill="#a23c9a"/><circle cx="423.97" cy="236.60" r="2.95" fill="#a23c9a"/><circle cx="436.88" cy="232.10" r="2.95" fill="#a23c9a"/><circle cx="449.79" cy="227.30" r="2.95" fill="#a23c9a"/><circle cx="462.70" cy="216.70" r="2.95" fill="#a23c9a"/><circle cx="475.61" cy="215.80" r="2.95" fill="#a23c9a"/><circle cx="488.52" cy="207.60" r="2.95" fill="#a23c9a"/><circle cx="501.43" cy="198.50" r="2.95" fill="#a23c9a"/><circle cx="514.34" cy="184.40" r="2.95" fill="#a23c9a"/><circle cx="527.25" cy="180.30" r="2.95" fill="#a23c9a"/>
</g>
<g>
<rect x="559.50" y="155.50" width="193.50" height="128.95" fill="none" stroke="#4e4e4e" stroke-width="0.85"/>
<path d="M624.00 284.45v-2.00M624.00 155.50v2.00M688.50 284.45v-2.00M688.50 155.50v2.00M559.50 262.67h2.00M753.00 262.67h-2.00M559.50 241.23h2.00M753.00 241.23h-2.00M559.50 219.80h2.00M753.00 219.80h-2.00M559.50 198.37h2.00M753.00 198.37h-2.00M559.50 176.93h2.00M753.00 176.93h-2.00" stroke="#4e4e4e" stroke-width="0.7" fill="none"/>
<text class="t" x="551.15" y="287.50" transform="rotate(0.04 551.15 287.50)" textLength="4.90" lengthAdjust="spacingAndGlyphs">0</text>
<text class="t" x="535.45" y="266.07" transform="rotate(0.04 535.45 266.07)" textLength="18.40" lengthAdjust="spacingAndGlyphs">1000</text>
<text class="t" x="535.45" y="244.63" transform="rotate(0.04 535.45 244.63)" textLength="18.40" lengthAdjust="spacingAndGlyphs">2000</text>
<text class="t" x="535.45" y="223.20" transform="rotate(0.04 535.45 223.20)" textLength="18.40" lengthAdjust="spacingAndGlyphs">3000</text>
<text class="t" x="535.45" y="201.77" transform="rotate(0.04 535.45 201.77)" textLength="18.40" lengthAdjust="spacingAndGlyphs">4000</text>
<text class="t" x="535.45" y="180.33" transform="rotate(0.04 535.45 180.33)" textLength="18.40" lengthAdjust="spacingAndGlyphs">5000</text>
<text class="t" x="535.45" y="158.50" transform="rotate(0.04 535.45 158.50)" textLength="18.40" lengthAdjust="spacingAndGlyphs">6000</text>
<text class="t" x="548.70" y="294.65" transform="rotate(0.04 548.70 294.65)" textLength="18.40" lengthAdjust="spacingAndGlyphs">1998</text>
<text class="t" x="613.20" y="294.65" transform="rotate(0.04 613.20 294.65)" textLength="18.40" lengthAdjust="spacingAndGlyphs">2003</text>
<text class="t" x="677.70" y="294.65" transform="rotate(0.04 677.70 294.65)" textLength="18.40" lengthAdjust="spacingAndGlyphs">2008</text>
<text class="t" x="742.20" y="294.65" transform="rotate(0.04 742.20 294.65)" textLength="18.40" lengthAdjust="spacingAndGlyphs">2013</text>
<text class="h" x="564.60" y="195.70" transform="rotate(0.04 564.60 195.70)" textLength="42.80" lengthAdjust="spacingAndGlyphs">Infectious</text>
<text class="h" x="610.30" y="195.70" transform="rotate(0.04 610.30 195.70)" textLength="37.63" lengthAdjust="spacingAndGlyphs">Diseases</text>
<polyline points="572.56,283.20 585.47,281.00 598.38,278.55 611.29,274.80 624.20,271.90 637.11,268.30 650.02,267.10 662.93,264.00 675.84,261.80 688.75,256.80 701.66,255.10 714.57,248.80 727.48,245.80 740.39,236.40 753.30,233.30" fill="none" stroke="#ec1e28" stroke-width="1.55" stroke-linejoin="round"/>
<path d="M570.26 280.90L574.86 285.50M570.26 285.50L574.86 280.90" stroke="#ec1e28" stroke-width="1.5" fill="none"/><path d="M583.17 278.70L587.77 283.30M583.17 283.30L587.77 278.70" stroke="#ec1e28" stroke-width="1.5" fill="none"/><path d="M596.08 276.25L600.68 280.85M596.08 280.85L600.68 276.25" stroke="#ec1e28" stroke-width="1.5" fill="none"/><path d="M608.99 272.50L613.59 277.10M608.99 277.10L613.59 272.50" stroke="#ec1e28" stroke-width="1.5" fill="none"/><path d="M621.90 269.60L626.50 274.20M621.90 274.20L626.50 269.60" stroke="#ec1e28" stroke-width="1.5" fill="none"/><path d="M634.81 266.00L639.41 270.60M634.81 270.60L639.41 266.00" stroke="#ec1e28" stroke-width="1.5" fill="none"/><path d="M647.72 264.80L652.32 269.40M647.72 269.40L652.32 264.80" stroke="#ec1e28" stroke-width="1.5" fill="none"/><path d="M660.63 261.70L665.23 266.30M660.63 266.30L665.23 261.70" stroke="#ec1e28" stroke-width="1.5" fill="none"/><path d="M673.54 259.50L678.14 264.10M673.54 264.10L678.14 259.50" stroke="#ec1e28" stroke-width="1.5" fill="none"/><path d="M686.45 254.50L691.05 259.10M686.45 259.10L691.05 254.50" stroke="#ec1e28" stroke-width="1.5" fill="none"/><path d="M699.36 252.80L703.96 257.40M699.36 257.40L703.96 252.80" stroke="#ec1e28" stroke-width="1.5" fill="none"/><path d="M712.27 246.50L716.87 251.10M712.27 251.10L716.87 246.50" stroke="#ec1e28" stroke-width="1.5" fill="none"/><path d="M725.18 243.50L729.78 248.10M725.18 248.10L729.78 243.50" stroke="#ec1e28" stroke-width="1.5" fill="none"/><path d="M738.09 234.10L742.69 238.70M738.09 238.70L742.69 234.10" stroke="#ec1e28" stroke-width="1.5" fill="none"/><path d="M751.00 231.00L755.60 235.60M751.00 235.60L755.60 231.00" stroke="#ec1e28" stroke-width="1.5" fill="none"/>
<polyline points="572.56,281.10 585.47,278.70 598.38,275.60 611.29,272.60 624.20,265.00 637.11,260.90 650.02,259.30 662.93,259.60 675.84,254.90 688.75,249.90 701.66,241.80 714.57,233.50 727.48,231.30 740.39,218.90 753.30,216.80" fill="none" stroke="#12853f" stroke-width="1.55" stroke-linejoin="round"/>
<path d="M572.56 276.87L576.43 283.22L568.68 283.22Z" fill="#12853f" stroke="#12853f" stroke-width="0.9"/><path d="M585.47 274.47L589.35 280.82L581.60 280.82Z" fill="#12853f" stroke="#12853f" stroke-width="0.9"/><path d="M598.38 271.37L602.25 277.72L594.50 277.72Z" fill="#12853f" stroke="#12853f" stroke-width="0.9"/><path d="M611.29 268.37L615.16 274.72L607.41 274.72Z" fill="#12853f" stroke="#12853f" stroke-width="0.9"/><path d="M624.20 260.77L628.07 267.12L620.32 267.12Z" fill="#12853f" stroke="#12853f" stroke-width="0.9"/><path d="M637.11 256.67L640.99 263.02L633.24 263.02Z" fill="#12853f" stroke="#12853f" stroke-width="0.9"/><path d="M650.02 255.07L653.89 261.42L646.14 261.42Z" fill="#12853f" stroke="#12853f" stroke-width="0.9"/><path d="M662.93 255.37L666.80 261.72L659.05 261.72Z" fill="#12853f" stroke="#12853f" stroke-width="0.9"/><path d="M675.84 250.67L679.71 257.02L671.96 257.02Z" fill="#12853f" stroke="#12853f" stroke-width="0.9"/><path d="M688.75 245.67L692.62 252.02L684.88 252.02Z" fill="#12853f" stroke="#12853f" stroke-width="0.9"/><path d="M701.66 237.57L705.53 243.92L697.78 243.92Z" fill="#12853f" stroke="#12853f" stroke-width="0.9"/><path d="M714.57 229.27L718.44 235.62L710.69 235.62Z" fill="#12853f" stroke="#12853f" stroke-width="0.9"/><path d="M727.48 227.07L731.36 233.42L723.61 233.42Z" fill="#12853f" stroke="#12853f" stroke-width="0.9"/><path d="M740.39 214.67L744.26 221.02L736.51 221.02Z" fill="#12853f" stroke="#12853f" stroke-width="0.9"/><path d="M753.30 212.57L757.17 218.92L749.42 218.92Z" fill="#12853f" stroke="#12853f" stroke-width="0.9"/>
<polyline points="572.56,279.40 585.47,273.10 598.38,265.90 611.29,261.40 624.20,256.50 637.11,247.30 650.02,243.90 662.93,236.60 675.84,230.50 688.75,220.10 701.66,208.60 714.57,202.30 727.48,188.40 740.39,173.80 753.30,164.40" fill="none" stroke="#a23c9a" stroke-width="1.55" stroke-linejoin="round"/>
<circle cx="572.56" cy="279.40" r="2.95" fill="#a23c9a"/><circle cx="585.47" cy="273.10" r="2.95" fill="#a23c9a"/><circle cx="598.38" cy="265.90" r="2.95" fill="#a23c9a"/><circle cx="611.29" cy="261.40" r="2.95" fill="#a23c9a"/><circle cx="624.20" cy="256.50" r="2.95" fill="#a23c9a"/><circle cx="637.11" cy="247.30" r="2.95" fill="#a23c9a"/><circle cx="650.02" cy="243.90" r="2.95" fill="#a23c9a"/><circle cx="662.93" cy="236.60" r="2.95" fill="#a23c9a"/><circle cx="675.84" cy="230.50" r="2.95" fill="#a23c9a"/><circle cx="688.75" cy="220.10" r="2.95" fill="#a23c9a"/><circle cx="701.66" cy="208.60" r="2.95" fill="#a23c9a"/><circle cx="714.57" cy="202.30" r="2.95" fill="#a23c9a"/><circle cx="727.48" cy="188.40" r="2.95" fill="#a23c9a"/><circle cx="740.39" cy="173.80" r="2.95" fill="#a23c9a"/><circle cx="753.30" cy="164.40" r="2.95" fill="#a23c9a"/>
</g>
<text class="t" x="333.70" y="152.30" transform="rotate(0.04 333.70 152.30)" textLength="14.00" lengthAdjust="spacingAndGlyphs">x 10</text>
<text class="s" x="355.00" y="147.80" transform="rotate(0.04 355.00 147.80)" textLength="3.10" lengthAdjust="spacingAndGlyphs">4</text>
<g>
<rect x="0.5" y="123.4" width="77.2" height="43.9" fill="#fff" stroke="#3a3a3a" stroke-width="0.8"/>
<path d="M5.6 131.50H32.6" stroke="#ec1e28" stroke-width="1.35" fill="none"/><path d="M16.80 129.20L21.40 133.80M16.80 133.80L21.40 129.20" stroke="#ec1e28" stroke-width="1.5" fill="none"/><text class="l" x="35.75" y="134.15" transform="rotate(0.04 35.75 134.15)" textLength="32.01" lengthAdjust="spacingAndGlyphs">HPM–I C</text>
<path d="M5.6 145.30H32.6" stroke="#12853f" stroke-width="1.35" fill="none"/><path d="M19.10 141.07L22.98 147.42L15.23 147.42Z" fill="#12853f" stroke="#12853f" stroke-width="0.9"/><text class="l" x="35.75" y="147.95" transform="rotate(0.04 35.75 147.95)" textLength="29.81" lengthAdjust="spacingAndGlyphs">HPM–LT</text>
<path d="M5.6 159.05H32.6" stroke="#a23c9a" stroke-width="1.35" fill="none"/><circle cx="19.10" cy="159.05" r="2.95" fill="#a23c9a"/><text class="l" x="35.75" y="161.70" transform="rotate(0.04 35.75 161.70)" textLength="32.42" lengthAdjust="spacingAndGlyphs">MLTM–R</text>
</g>
</svg>
</body></html>
